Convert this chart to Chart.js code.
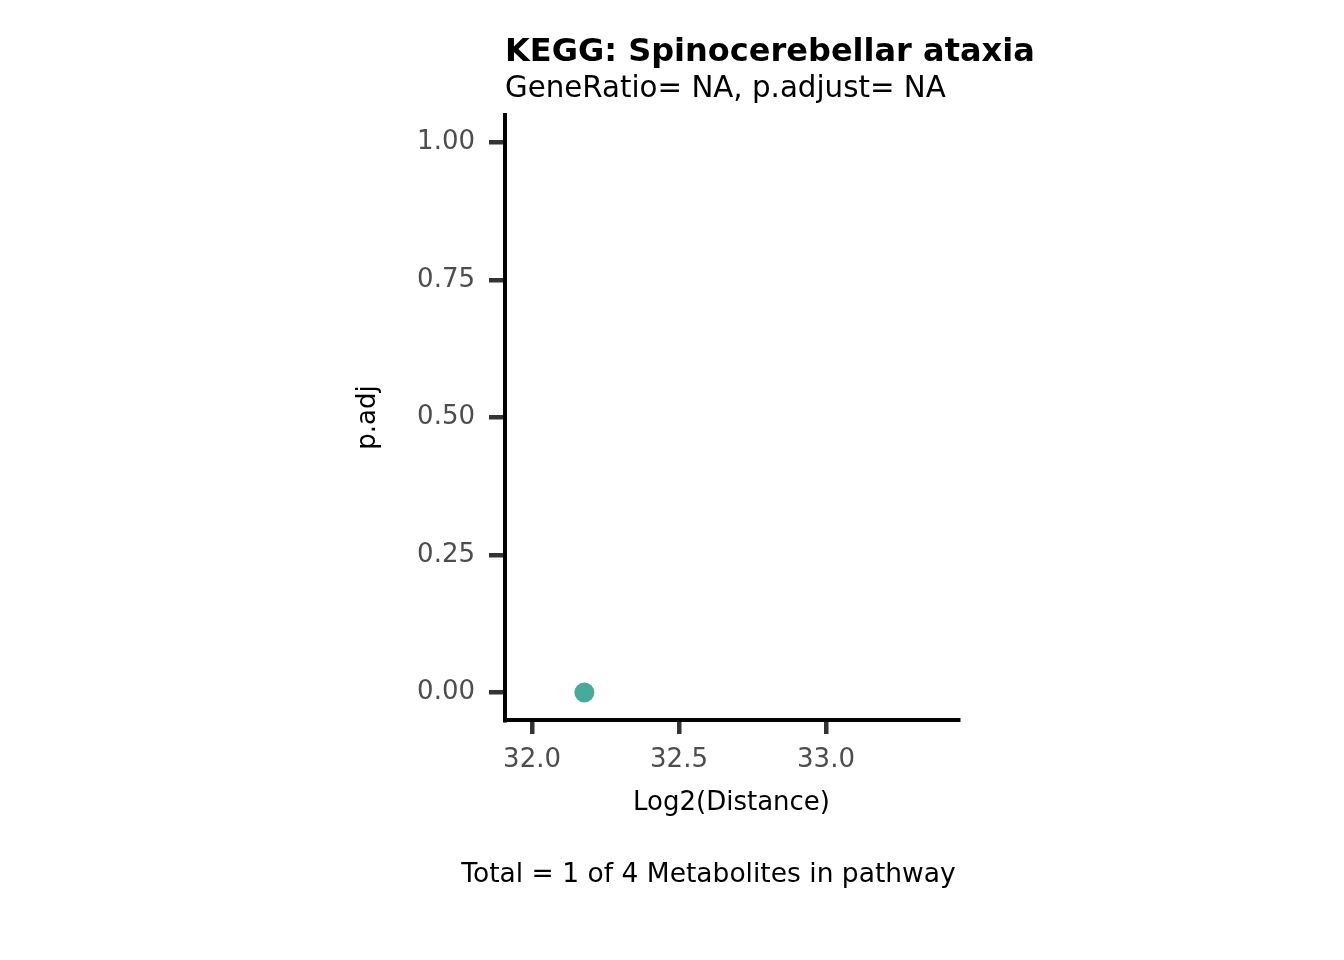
<!DOCTYPE html>
<html>
<head>
<meta charset="utf-8">
<style>
  html, body { margin: 0; padding: 0; background: #ffffff; }
  canvas { display: block; }
</style>
<script src="https://cdn.jsdelivr.net/npm/chart.js@4/dist/chart.umd.min.js"></script>
</head>
<body>
<canvas id="c" width="1344" height="960"></canvas>
<script>
// ---- data ----
const xValues = [32.178];
const yValues = [0.0];
const xTicks = [32.0, 32.5, 33.0];
const yTicks = [0.00, 0.25, 0.50, 0.75, 1.00];
const xRange = [31.908, 33.449];
const yRange = [-0.05, 1.05];

const titleText = 'KEGG: Spinocerebellar ataxia';
const subtitleText = 'GeneRatio= NA, p.adjust= NA';
const xTitle = 'Log2(Distance)';
const yTitle = 'p.adj';
const captionText = 'Total = 1 of 4 Metabolites in pathway';

const FONT = '"DejaVu Sans", sans-serif';

const textPlugin = {
  id: 'texts',
  afterDraw(chart) {
    const ctx = chart.ctx;
    const a = chart.chartArea;
    ctx.save();
    ctx.fillStyle = '#000000';
    ctx.textBaseline = 'alphabetic';
    ctx.textAlign = 'left';
    ctx.font = 'bold 32px ' + FONT;
    ctx.fillText(titleText, a.left, 61);
    ctx.font = '29.3px ' + FONT;
    ctx.fillText(subtitleText, a.left, 97);
    ctx.textAlign = 'center';
    ctx.textBaseline = 'middle';
    ctx.font = '26px ' + FONT;
    ctx.fillText(xTitle, (a.left + a.right) / 2, 803);
    ctx.font = '26.5px ' + FONT;
    ctx.fillText(captionText, 708.5, 875);
    ctx.font = '26px ' + FONT;
    ctx.translate(368, (a.top + a.bottom) / 2);
    ctx.rotate(-Math.PI / 2);
    ctx.fillText(yTitle, 0, 0);
    ctx.restore();
  }
};

new Chart(document.getElementById('c'), {
  type: 'scatter',
  data: {
    datasets: [{
      data: xValues.map((x, i) => ({ x: x, y: yValues[i] })),
      backgroundColor: '#46AB9A',
      borderColor: '#46AB9A',
      borderWidth: 0,
      pointRadius: 10,
      pointHoverRadius: 10
    }]
  },
  options: {
    responsive: false,
    animation: false,
    devicePixelRatio: 1,
    layout: { padding: { left: 0, top: 115, right: 386, bottom: 0 } },
    plugins: {
      legend: { display: false },
      title: { display: false },
      tooltip: { enabled: false }
    },
    scales: {
      x: {
        type: 'linear',
        min: xRange[0],
        max: xRange[1],
        afterFit(s) { s.height = 240; },
        afterBuildTicks(s) { s.ticks = xTicks.map(v => ({ value: v })); },
        grid: { drawOnChartArea: false, drawTicks: true, tickLength: 14, color: '#333333', lineWidth: 4.5 },
        border: { display: true, color: '#000000', width: 4 },
        ticks: {
          padding: 11,
          color: '#4D4D4D',
          font: { family: FONT, size: 26 },
          callback: v => Number(v).toFixed(1),
          maxRotation: 0,
          autoSkip: false
        }
      },
      y: {
        type: 'linear',
        min: yRange[0],
        max: yRange[1],
        afterFit(s) { s.width = 505; },
        afterBuildTicks(s) { s.ticks = yTicks.map(v => ({ value: v })); },
        grid: { drawOnChartArea: false, drawTicks: true, tickLength: 16, color: '#333333', lineWidth: 4.5 },
        border: { display: true, color: '#000000', width: 4 },
        ticks: {
          padding: 14,
          color: '#4D4D4D',
          font: { family: FONT, size: 26 },
          callback: v => Number(v).toFixed(2),
          autoSkip: false
        }
      }
    }
  },
  plugins: [textPlugin]
});
</script>
</body>
</html>
